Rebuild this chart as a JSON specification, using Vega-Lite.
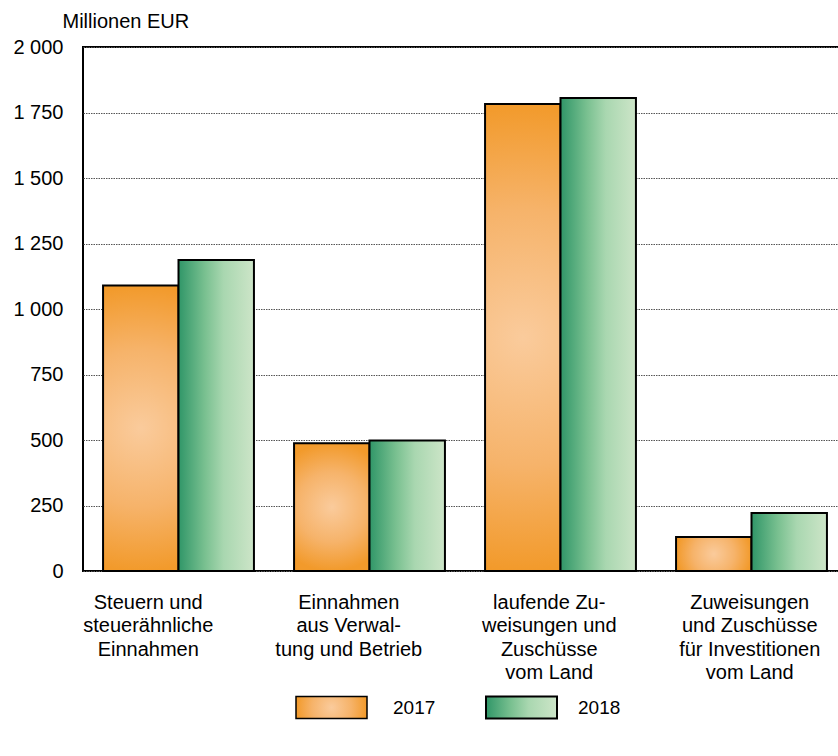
{
  "$schema": "https://vega.github.io/schema/vega-lite/v6.json",
  "width": 764,
  "height": 524,
  "autosize": {"type": "none"},
  "padding": {"left": 83, "top": 47, "right": 0, "bottom": 185},
  "background": "white",
  "config": {
    "font": "Liberation Sans",
    "view": {"stroke": "black", "strokeWidth": 2},
    "axis": {"labelFont": "Liberation Sans", "labelColor": "black", "titleColor": "black", "titleFont": "Liberation Sans", "titleFontWeight": "normal"},
    "legend": {"labelFont": "Liberation Sans", "labelColor": "black"}
  },
  "data": {
    "values": [
      {"cat": "Steuern und|steuerähnliche|Einnahmen", "year": "2017", "value": 1090},
      {"cat": "Steuern und|steuerähnliche|Einnahmen", "year": "2018", "value": 1187},
      {"cat": "Einnahmen|aus Verwal-|tung und Betrieb", "year": "2017", "value": 488},
      {"cat": "Einnahmen|aus Verwal-|tung und Betrieb", "year": "2018", "value": 498},
      {"cat": "laufende Zu-|weisungen und|Zuschüsse|vom Land", "year": "2017", "value": 1782},
      {"cat": "laufende Zu-|weisungen und|Zuschüsse|vom Land", "year": "2018", "value": 1805},
      {"cat": "Zuweisungen|und Zuschüsse|für Investitionen|vom Land", "year": "2017", "value": 130},
      {"cat": "Zuweisungen|und Zuschüsse|für Investitionen|vom Land", "year": "2018", "value": 221}
    ]
  },
  "layer": [
    {
      "encoding": {
        "x": {"field": "cat", "type": "nominal", "sort": null, "axis": null,
              "scale": {"paddingInner": 0.21, "paddingOuter": 0.105}},
        "xOffset": {"field": "year", "type": "nominal", "scale": {"domain": ["2017", "2018"], "paddingInner": 0, "paddingOuter": 0}},
        "y": {"field": "value", "type": "quantitative",
              "scale": {"domain": [0, 2000], "nice": false},
              "axis": {
                "values": [0, 250, 500, 750, 1000, 1250, 1500, 1750, 2000],
                "labelExpr": "replace(format(datum.value, ','), ',', ' ')",
                "labelFontSize": 20, "labelPadding": 20, "ticks": false,
                "domain": false,
                "grid": true, "gridColor": "#555555", "gridDash": [1.5, 1], "gridWidth": 1,
                "title": "Millionen EUR", "titleAngle": 0, "titleAlign": "left",
                "titleBaseline": "alphabetic", "titleFontSize": 20,
                "titleX": -21, "titleY": -20
              }}
      },
      "layer": [
        {
          "transform": [{"filter": "datum.year === '2017'"}],
          "mark": {"type": "bar", "stroke": "black", "strokeWidth": 2,
            "fill": {"gradient": "radial", "x1": 0.5, "y1": 0.5, "r1": 0, "x2": 0.5, "y2": 0.5, "r2": 0.5,
              "stops": [{"offset": 0, "color": "#FACB9C"}, {"offset": 0.55, "color": "#F6B36A"}, {"offset": 1, "color": "#F29A2B"}]}},
          "encoding": {
            "opacity": {"datum": "2017", "type": "nominal",
              "scale": {"domain": ["2017"], "range": [1]},
              "legend": {
                "title": null, "orient": "none", "direction": "horizontal",
                "legendX": 212, "legendY": 624,
                "symbolType": "M-1,-0.31H1V0.31H-1Z", "symbolSize": 5041,
                "labelFontSize": 19, "labelOffset": 25, "padding": 0
              }}
          }
        },
        {
          "transform": [{"filter": "datum.year === '2018'"}],
          "mark": {"type": "bar", "strokeWidth": 2,
            "fill": {"gradient": "linear", "x1": 0, "y1": 0, "x2": 1, "y2": 0,
              "stops": [{"offset": 0, "color": "#309668"}, {"offset": 0.35, "color": "#79C090"}, {"offset": 0.6, "color": "#A9D7B0"}, {"offset": 1, "color": "#CDE5C8"}]}},
          "encoding": {
            "stroke": {"datum": "2018", "type": "nominal",
              "scale": {"domain": ["2018"], "range": ["black"]},
              "legend": {
                "title": null, "orient": "none", "direction": "horizontal",
                "legendX": 402, "legendY": 624,
                "symbolType": "M-1,-0.31H1V0.31H-1Z", "symbolSize": 5041,
                "symbolStrokeWidth": 2,
                "labelFontSize": 19, "labelOffset": 20, "padding": 0
              }}
          }
        }
      ]
    },
    {
      "mark": {"type": "tick", "opacity": 0},
      "encoding": {
        "x": {"field": "cat", "type": "nominal", "sort": null,
              "scale": {"range": [-35, 767], "paddingInner": 0, "paddingOuter": 0},
              "axis": {"title": null, "domain": false, "ticks": false, "labelAngle": 0,
                       "labelExpr": "split(datum.label, '|')",
                       "labelFontSize": 20, "labelLineHeight": 23.5, "labelPadding": 21,
                       "labelBaseline": "top", "labelAlign": "center"}}
      }
    }
  ],
  "resolve": {"scale": {"x": "independent"}, "axis": {"x": "independent"}}
}
